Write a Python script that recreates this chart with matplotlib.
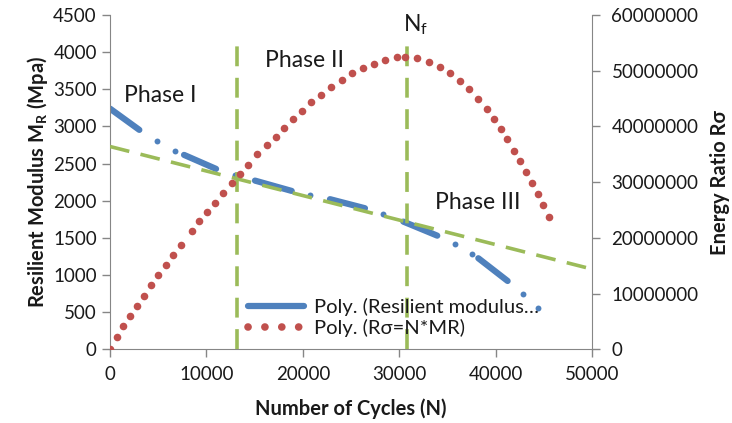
import matplotlib
matplotlib.use("Agg")
import matplotlib.pyplot as plt
from matplotlib.lines import Line2D

plt.rcParams['font.family'] = ['Lato', 'DejaVu Sans']
plt.rcParams['mathtext.default'] = 'regular'

# Datos
# Resilient modulus (eje izquierdo): tramos densos de puntos y puntos sueltos
run_start_x = [0, 7680, 15040, 22820, 30430, 38210]
run_start_y = [3240, 2617, 2271, 2021, 1719, 1226]
run_end_x = [3040, 11000, 18850, 26450, 33950, 41250]
run_end_y = [2954, 2429, 2132, 1899, 1530, 920]
single_x = [4840, 6740, 12970, 20750, 28350, 35790, 37520, 42880, 44440]
single_y = [2806, 2675, 2348, 2078, 1818, 1414, 1280, 741, 552]

# Linea de tendencia lineal y lineas verticales
trend_x = [0, 50000]
trend_y = [2730, 1080]
phase_lines_x = [13200, 30800]
phase_lines_top = 4200

# Energy ratio R_sigma (eje derecho), en millones
r_x = [0, 695, 1380, 2075, 2832, 3558, 4253, 5010, 5809, 6566, 7365, 8475, 9232,
       10062, 10923, 11753, 12624, 13485, 14346, 15280, 16255, 17189, 18050,
       19014, 19917, 20882, 21857, 22894, 24035, 25104, 26214, 27386, 28527,
       29741, 30602, 31878, 33091, 34232, 35301, 36307, 37241, 38205, 39077,
       39834, 40560, 41214, 41909, 42531, 43154, 43807, 44398, 44948, 45570]
r_y = [0, 2.21, 4.13, 5.93, 7.85, 9.65, 11.55, 13.42, 15.14, 17.01, 18.73, 21.25,
       22.99, 24.66, 26.35, 28.07, 29.77, 31.44, 33.05, 34.98, 36.65, 38.14,
       39.75, 41.32, 42.81, 44.32, 45.68, 47.07, 48.38, 49.53, 50.48, 51.25,
       51.97, 52.46, 52.46, 52.22, 51.61, 50.71, 49.53, 48.14, 46.65, 44.86,
       43.06, 41.26, 39.47, 37.67, 35.62, 33.72, 31.74, 29.77, 27.79, 25.87,
       23.77]

blue = '#4F81BD'
red = '#C0504D'
green = '#9BBB59'
gray = '#868686'
txt = '#1a1a1a'

fig = plt.figure(figsize=(7.32, 4.23), dpi=100)
ax = fig.add_axes([0.1503, 0.1742, 0.6584, 0.7903])
ax2 = ax.twinx()

# puntos azules
for x0, y0, x1, y1 in zip(run_start_x, run_start_y, run_end_x, run_end_y):
    ax.plot([x0, x1], [y0, y1], color=blue, lw=4.5, solid_capstyle='round', zorder=2)
ax.scatter(single_x, single_y, s=18, color=blue, zorder=2, linewidths=0)

# tendencia y fases
ax.plot(trend_x, trend_y, color=green, lw=2.6, dashes=(5.5, 3.2), zorder=3)
for xv in phase_lines_x:
    ax.plot([xv, xv], [0, phase_lines_top], color=green, lw=2.6, dashes=(5.5, 3.2), zorder=3)

# puntos rojos
ax2.scatter(r_x, [v * 1e6 for v in r_y], s=30, color=red, linewidths=0, zorder=4)

ax.set_xlim(0, 50000)
ax.set_ylim(0, 4500)
ax2.set_ylim(0, 60000000)
ax.set_xticks(range(0, 50001, 10000))
ax.set_yticks(range(0, 4501, 500))
ax2.set_yticks(range(0, 60000001, 10000000))
ax2.set_yticklabels([str(v) for v in range(0, 60000001, 10000000)])

for a in (ax, ax2):
    a.spines['top'].set_visible(False)
    for s in a.spines.values():
        s.set_color(gray)
    a.tick_params(colors=gray, labelcolor=txt, labelsize=13.5, length=6, width=1)
ax2.spines['left'].set_visible(False)
ax2.spines['bottom'].set_visible(False)
ax.spines['right'].set_visible(False)
ax.tick_params(axis='x', pad=6)
ax2.tick_params(axis='y', pad=8)

ax.set_xlabel('Number of Cycles (N)', fontsize=14.5, fontweight='bold', color=txt, labelpad=11)
ax.set_ylabel('Resilient Modulus M$_R$ (Mpa)', fontsize=14.5, fontweight='bold', color=txt, labelpad=2)
ax2.set_ylabel('Energy Ratio R\u03c3', fontsize=14.5, fontweight='bold', color=txt, labelpad=8)

ax.text(5200, 3420, 'Phase I', fontsize=16.5, color=txt, ha='center', va='center')
ax.text(20200, 3890, 'Phase II', fontsize=16.5, color=txt, ha='center', va='center')
ax.text(38100, 1980, 'Phase III', fontsize=16.5, color=txt, ha='center', va='center')
ax.text(30400, 4370, 'N$_f$', fontsize=16.5, color=txt, ha='left', va='center')

handles = [
    Line2D([], [], color=blue, lw=4.5, solid_capstyle='round'),
    Line2D([], [], color=red, lw=5.5, linestyle=(0, (0.01, 2.2)), dash_capstyle='round'),
]
labels = ['Poly. (Resilient modulus\u2026', 'Poly. (R\u03c3=N*MR)']
leg = ax2.legend(handles, labels, loc='center left', bbox_to_anchor=(0.325, 0.2494),
                 bbox_transform=fig.transFigure, frameon=False, fontsize=14.5,
                 borderpad=0, handlelength=2.8, handletextpad=0.5, labelspacing=0.1)
for t in leg.get_texts():
    t.set_color(txt)

plt.savefig('out.png', dpi=100)
